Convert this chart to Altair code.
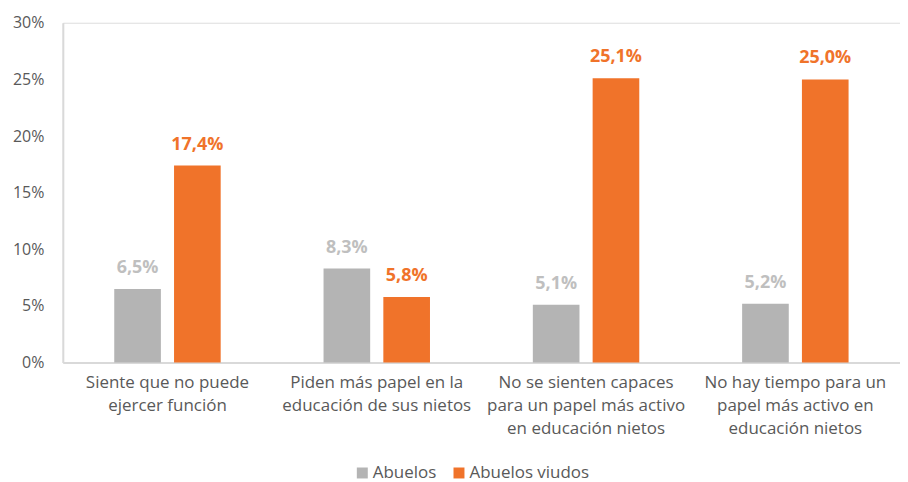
import altair as alt
import pandas as pd

categories = [
    "Siente que no puede\nejercer función",
    "Piden más papel en la\neducación de sus nietos",
    "No se sienten capaces\npara un papel más activo\nen educación nietos",
    "No hay tiempo para un\npapel más activo en\neducación nietos",
]
series = ["Abuelos", "Abuelos viudos"]
abuelos = [6.5, 8.3, 5.1, 5.2]
abuelos_viudos = [17.4, 5.8, 25.1, 25.0]
colors = ["#B4B4B4", "#F0732A"]
label_colors = ["#BFBFBF", "#F0732A"]

rows = []
for c, a, v in zip(categories, abuelos, abuelos_viudos):
    rows.append({"cat": c, "serie": series[0], "value": a})
    rows.append({"cat": c, "serie": series[1], "value": v})
df = pd.DataFrame(rows)

FONT = "Open Sans"

x = alt.X("cat:N", sort=categories, title=None,
          scale=alt.Scale(paddingInner=0, paddingOuter=0),
          axis=alt.Axis(labelAngle=0, labelExpr="split(datum.label, '\\n')",
                        labelFontSize=17, labelColor="#595959", labelFont=FONT,
                        labelLineHeight=23, labelPadding=12, ticks=False, labelLimit=0,
                        domainColor="#D9D9D9", domainWidth=2, labelBaseline="top"))
xoff = alt.XOffset("serie:N", sort=series,
                   scale=alt.Scale(paddingInner=0.22, paddingOuter=0.86))
y = alt.Y("value:Q", title=None,
          scale=alt.Scale(domain=[0, 30]),
          axis=alt.Axis(values=[0, 5, 10, 15, 20, 25, 30], labelExpr="datum.value + '%'",
                        grid=False, ticks=False, labelFontSize=16, labelColor="#595959",
                        labelFont=FONT, labelPadding=19, domainColor="#D9D9D9", domainWidth=2))

bars = alt.Chart(df).mark_bar().encode(
    x=x, xOffset=xoff, y=y,
    color=alt.Color("serie:N", sort=series,
                    scale=alt.Scale(domain=series, range=colors),
                    legend=alt.Legend(title=None, orient="none", direction="horizontal",
                                      legendX=292, legendY=443,
                                      symbolType="square", symbolSize=121,
                                      labelFontSize=17, labelColor="#595959", labelFont=FONT,
                                      symbolStrokeWidth=0, columnPadding=14,
                                      labelOffset=2)),
)

texts = alt.Chart(df).transform_calculate(
    lab="replace(format(datum.value, '.1f'), '.', ',') + '%'"
).mark_text(baseline="bottom", dy=-12, fontSize=18, fontWeight="bold", font=FONT).encode(
    x=x, xOffset=xoff, y=y,
    text="lab:N",
    color=alt.Color("serie:N", sort=series,
                    scale=alt.Scale(domain=series, range=label_colors), legend=None),
)

chart = alt.layer(bars, texts).resolve_scale(color="independent").properties(
    width=840, height=341,
    padding={"left": 4, "top": 6, "right": 0, "bottom": 0},
).configure_view(stroke=None).configure(background="white")

chart.save("out.html", embed_options={"renderer": "svg", "actions": False})
